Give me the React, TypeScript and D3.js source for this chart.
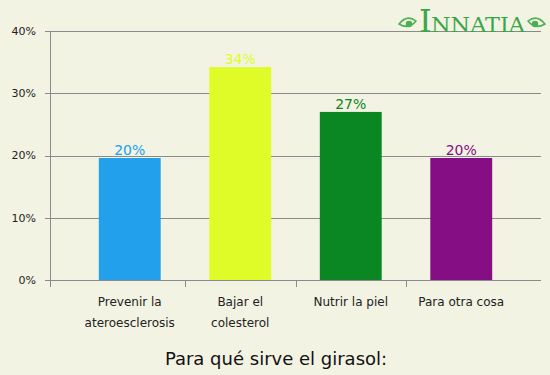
import React from "react";
import * as d3 from "d3";

const categories = [["Prevenir la", "ateroesclerosis"], ["Bajar el", "colesterol"], ["Nutrir la piel"], ["Para otra cosa"]];
const values = [19.6, 34.2, 27.0, 19.6];
const colors = ["#22a0ec", "#dffc28", "#0a8622", "#850e85"];
const yTicks = [0, 10, 20, 30, 40];
const title = "Para qué sirve el girasol:";

export default function App() {
  const W = 550, H = 375;
  const y = d3.scaleLinear().domain([0, 40]).range([280, 31]);
  const x = d3.scaleBand<number>().domain(d3.range(categories.length)).range([74.5, 516.5]).paddingInner(0.44).paddingOuter(0.22);
  const step = x.step();
  const bandStart = (i: number) => (x(i) as number) - step * 0.22;
  const font = "DejaVu Sans, Verdana, sans-serif";
  const grid = "#8a8a8a";
  return (
    <svg width={W} height={H} style={{ position: "absolute", left: 0, top: 0, background: "#f3f3e3" }} fontFamily={font}>
      <rect x={0} y={0} width={W} height={H} fill="#f3f3e3" />
      {yTicks.map((t) => (
        <g key={t}>
          <line x1={45} x2={541} y1={Math.round(y(t)) + 0.5} y2={Math.round(y(t)) + 0.5} stroke={grid} strokeWidth={1} />
          <text x={36} y={y(t)} dy="0.35em" textAnchor="end" fontSize={11} fill="#222">{t}%</text>
        </g>
      ))}
      <line x1={50.5} x2={50.5} y1={31} y2={287} stroke={grid} />
      {[0, 1, 2, 3].map((i) => {
        const bx = i === 0 ? 50 : bandStart(i);
        return <line key={i} x1={Math.round(bx) + 0.5} x2={Math.round(bx) + 0.5} y1={280} y2={287} stroke={grid} />;
      })}
      {values.map((v, i) => (
        <g key={i}>
          <rect x={x(i)} y={y(v)} width={x.bandwidth()} height={y(0) - y(v)} fill={colors[i]} />
          <text x={(x(i) as number) + x.bandwidth() / 2} y={y(v) - 3} textAnchor="middle" fontSize={14} fill={colors[i]}>{Math.round(v)}%</text>
        </g>
      ))}
      {categories.map((c, i) => (
        <text key={i} x={(x(i) as number) + x.bandwidth() / 2} textAnchor="middle" fontSize={12} fill="#222">
          {c.map((line, j) => (
            <tspan key={j} x={(x(i) as number) + x.bandwidth() / 2} y={306 + j * 21}>{line}</tspan>
          ))}
        </text>
      ))}
      <text x={276} y={365} textAnchor="middle" fontSize={18} fill="#111">{title}</text>
      <g fill="none" stroke="#4caf50" strokeWidth={1.5}>
        <path d="M 399 24 Q 407 14 416 21 Q 409 30 399 24 Z" />
        <circle cx={409} cy={24} r={2.5} fill="#4caf50" />
        <path d="M 545 24 Q 537 14 528 21 Q 535 30 545 24 Z" />
        <circle cx={535} cy={24} r={2.5} fill="#4caf50" />
      </g>
      <text x={419} y={32} fontFamily="DejaVu Serif, Liberation Serif, serif" fill="#3aa64a" fontSize={32}>I</text>
      <text x={431} y={32} fontFamily="DejaVu Serif, Liberation Serif, serif" fill="#3aa64a" fontSize={20} textLength={94} lengthAdjust="spacingAndGlyphs">NNATIA</text>
    </svg>
  );
}
